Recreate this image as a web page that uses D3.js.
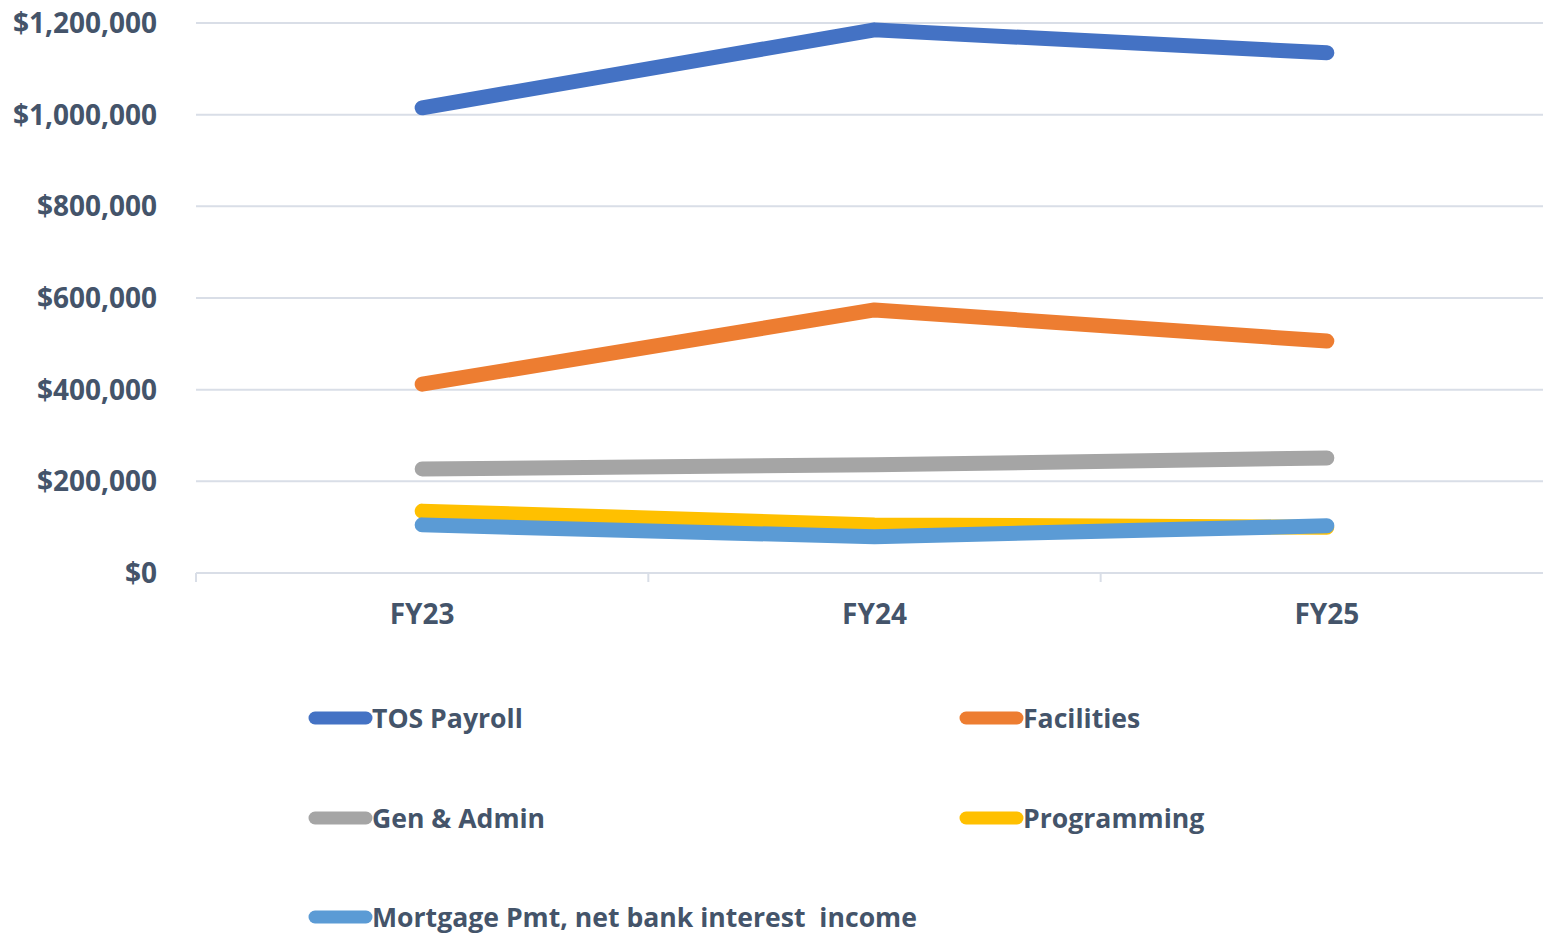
<!DOCTYPE html>
<html>
<head>
<meta charset="utf-8">
<script src="https://cdn.jsdelivr.net/npm/d3@7"></script>
<style>
  body { margin: 0; background: #fff; }
  text { font-family: "Open Sans", "Noto Sans", sans-serif; font-weight: bold; fill: #44546a; white-space: pre; }
</style>
</head>
<body>
<svg id="chart" width="1543" height="934"></svg>
<script>
const years = ["FY23", "FY24", "FY25"]
const series_names = ["TOS Payroll", "Facilities", "Gen & Admin", "Programming", "Mortgage Pmt, net bank interest  income"]
const series_colors = ["#4472c4", "#ed7d31", "#a5a5a5", "#ffc000", "#5b9bd5"]
const tos_payroll = [1015000, 1185000, 1135000]
const facilities = [412000, 574000, 506000]
const gen_admin = [227000, 236000, 251000]
const programming = [135000, 105000, 100000]
const mortgage = [105000, 79000, 103000]
const y_ticks = [0, 200000, 400000, 600000, 800000, 1000000, 1200000]

const all_values = [tos_payroll, facilities, gen_admin, programming, mortgage]

let svg = d3.select("#chart")
let plot_left = 196, plot_right = 1553, plot_top = 23, plot_bottom = 573

let x = d3.scaleBand().domain(years).range([plot_left, plot_right])
let y = d3.scaleLinear().domain([0, 1200000]).range([plot_bottom, plot_top])

// gridlines
svg.selectAll("line.grid")
  .data(y_ticks)
  .enter()
  .append("line")
  .attr("x1", plot_left)
  .attr("x2", 1543)
  .attr("y1", d => y(d))
  .attr("y2", d => y(d))
  .attr("stroke", "#d9dee7")
  .attr("stroke-width", 2)

// category ticks
svg.selectAll("line.tick")
  .data(years)
  .enter()
  .append("line")
  .attr("x1", d => x(d))
  .attr("x2", d => x(d))
  .attr("y1", plot_bottom)
  .attr("y2", plot_bottom + 9)
  .attr("stroke", "#d9dee7")
  .attr("stroke-width", 2)

let fmt = d3.format("$,")
svg.selectAll("text.ylab")
  .data(y_ticks)
  .enter()
  .append("text")
  .attr("x", 157)
  .attr("y", d => y(d) + 10)
  .attr("text-anchor", "end")
  .attr("font-size", 28)
  .text(d => fmt(d))

svg.selectAll("text.xlab")
  .data(years)
  .enter()
  .append("text")
  .attr("x", d => x(d) + x.bandwidth() / 2)
  .attr("y", 624)
  .attr("text-anchor", "middle")
  .attr("font-size", 28)
  .text(d => d)

let line = d3.line()
  .x((d, i) => x(years[i]) + x.bandwidth() / 2)
  .y(d => y(d))

svg.selectAll("path.series")
  .data(all_values)
  .enter()
  .append("path")
  .attr("d", d => line(d))
  .attr("fill", "none")
  .attr("stroke", (d, i) => series_colors[i])
  .attr("stroke-width", 15)
  .attr("stroke-linecap", "round")
  .attr("stroke-linejoin", "round")

// legend
let legend_pos = [[310, 718], [961, 718], [310, 818], [961, 818], [310, 917]]
let legend = svg.selectAll("g.legend")
  .data(series_names)
  .enter()
  .append("g")
  .attr("transform", (d, i) => "translate(" + legend_pos[i][0] + "," + legend_pos[i][1] + ")")

legend.append("line")
  .attr("x1", 5)
  .attr("x2", 56)
  .attr("y1", 0)
  .attr("y2", 0)
  .attr("stroke", (d, i) => series_colors[i])
  .attr("stroke-width", 13)
  .attr("stroke-linecap", "round")

legend.append("text")
  .attr("x", 62)
  .attr("y", 10)
  .attr("font-size", 26.6)
  .text(d => d)
</script>
</body>
</html>
